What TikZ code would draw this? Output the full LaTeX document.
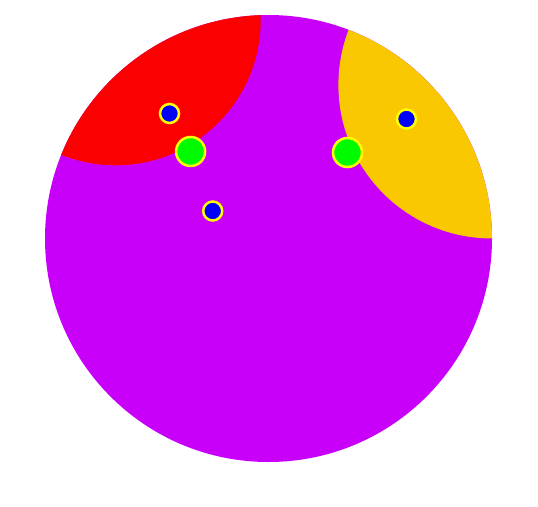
\documentclass[tikz,border=0pt]{standalone}
\begin{document}
\begin{tikzpicture}[x=1pt,y=-1pt,
  dot/.style={circle,draw={rgb,255:red,255;green,255;blue,0},line width=2.5pt,inner sep=0pt},
  bluedot/.style={dot,fill={rgb,255:red,0;green,0;blue,250},minimum size=19pt},
  greendot/.style={dot,fill={rgb,255:red,0;green,250;blue,0},minimum size=29pt}]
\definecolor{pur}{RGB}{200,0,250}
\definecolor{redr}{RGB}{250,0,0}
\definecolor{yel}{RGB}{250,200,0}
\useasboundingbox (0,0) rectangle (538,506);
\fill[pur] (268.5,238.5) circle[radius=223.5pt];
\begin{scope}
  \clip (268.5,238.5) circle[radius=223.5pt];
  \fill[redr] (115.6,20.2) circle[radius=145.1pt];
  \fill[yel] (492,84.9) circle[radius=153.6pt];
\end{scope}
\node[bluedot] (b1) at (169.5,113.5) {};
\node[greendot] (g1) at (190.6,151.5) {};
\node[bluedot] (b2) at (212.7,211) {};
\node[greendot] (g2) at (347.5,152.5) {};
\node[bluedot] (b3) at (406.5,119) {};
\end{tikzpicture}
\end{document}
